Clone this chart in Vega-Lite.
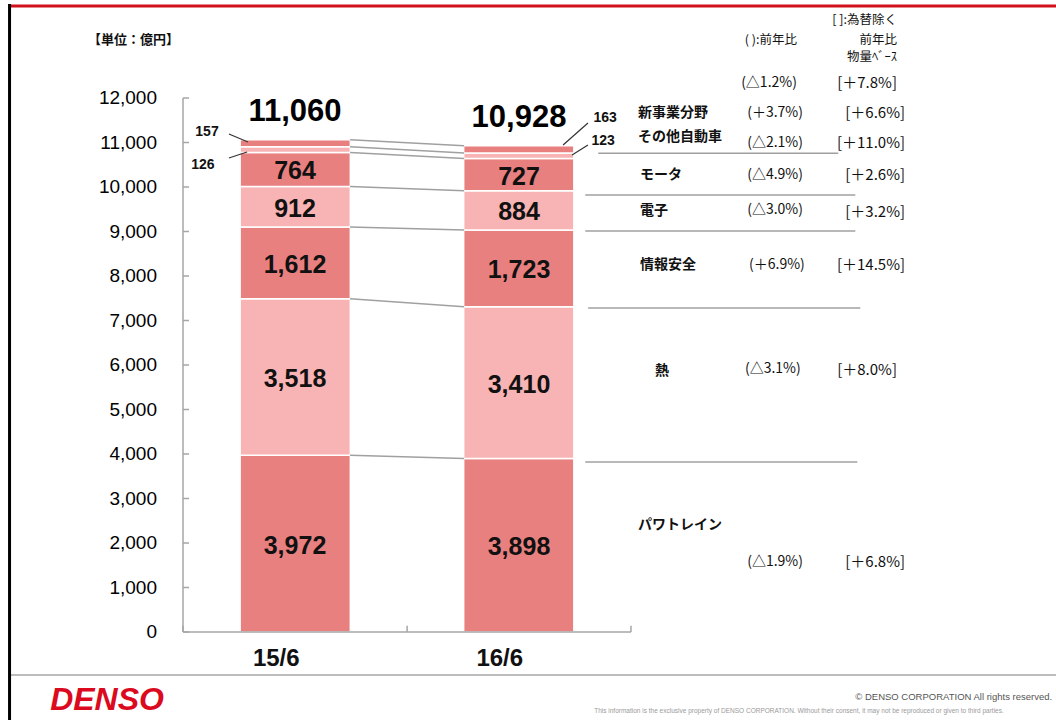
{
  "$schema": "https://vega.github.io/schema/vega-lite/v6.json",
  "autosize": {"type": "none"},
  "padding": {"left": 183, "top": 9, "right": 0, "bottom": 88},
  "width": 874,
  "height": 623,
  "background": "white",
  "config": {"view": {"stroke": null}, "text": {"font": "Noto Sans CJK JP"}},
  "datasets": {
    "bars": [
      {"period": "15/6", "segment": "パワトレイン", "order": 1, "value": 3972},
      {"period": "15/6", "segment": "熱", "order": 2, "value": 3518},
      {"period": "15/6", "segment": "情報安全", "order": 3, "value": 1612},
      {"period": "15/6", "segment": "電子", "order": 4, "value": 912},
      {"period": "15/6", "segment": "モータ", "order": 5, "value": 764},
      {"period": "15/6", "segment": "その他自動車", "order": 6, "value": 126},
      {"period": "15/6", "segment": "新事業分野", "order": 7, "value": 157},
      {"period": "16/6", "segment": "パワトレイン", "order": 1, "value": 3898},
      {"period": "16/6", "segment": "熱", "order": 2, "value": 3410},
      {"period": "16/6", "segment": "情報安全", "order": 3, "value": 1723},
      {"period": "16/6", "segment": "電子", "order": 4, "value": 884},
      {"period": "16/6", "segment": "モータ", "order": 5, "value": 727},
      {"period": "16/6", "segment": "その他自動車", "order": 6, "value": 123},
      {"period": "16/6", "segment": "新事業分野", "order": 7, "value": 163}
    ],
    "totals": [
      {"period": "15/6", "total": 11060},
      {"period": "16/6", "total": 10928}
    ],
    "yticks": [
      {"v": 0}, {"v": 1000}, {"v": 2000}, {"v": 3000}, {"v": 4000}, {"v": 5000}, {"v": 6000},
      {"v": 7000}, {"v": 8000}, {"v": 9000}, {"v": 10000}, {"v": 11000}, {"v": 12000}
    ],
    "xticks": [
      {"x": 0}, {"x": 1.0}, {"x": 1.999}
    ],
    "names": [
      {"text": "新事業分野", "x": 2.030, "y": 11663},
      {"text": "その他自動車", "x": 2.030, "y": 11124},
      {"text": "モータ", "x": 2.039, "y": 10270},
      {"text": "電子", "x": 2.039, "y": 9461},
      {"text": "情報安全", "x": 2.039, "y": 8247},
      {"text": "熱", "x": 2.106, "y": 5865},
      {"text": "パワトレイン", "x": 2.030, "y": 2404}
    ],
    "yoy": [
      {"text": "(△1.2%)", "x": 2.615, "y": 12337},
      {"text": "(＋3.7%)", "x": 2.642, "y": 11663},
      {"text": "(△2.1%)", "x": 2.642, "y": 10989},
      {"text": "(△4.9%)", "x": 2.642, "y": 10270},
      {"text": "(△3.0%)", "x": 2.642, "y": 9483},
      {"text": "(＋6.9%)", "x": 2.650, "y": 8247},
      {"text": "(△3.1%)", "x": 2.632, "y": 5910},
      {"text": "(△1.9%)", "x": 2.642, "y": 1573}
    ],
    "fx": [
      {"text": "[＋7.8%]", "x": 3.186, "y": 12337},
      {"text": "[＋6.6%]", "x": 3.222, "y": 11663},
      {"text": "[＋11.0%]", "x": 3.222, "y": 10989},
      {"text": "[＋2.6%]", "x": 3.222, "y": 10270},
      {"text": "[＋3.2%]", "x": 3.222, "y": 9438},
      {"text": "[＋14.5%]", "x": 3.222, "y": 8247},
      {"text": "[＋8.0%]", "x": 3.186, "y": 5888},
      {"text": "[＋6.8%]", "x": 3.222, "y": 1573}
    ],
    "headers": [
      {"text": "( ):前年比", "x": 2.740, "y": 13303},
      {"text": "[ ]:為替除く", "x": 3.186, "y": 13753},
      {"text": "前年比", "x": 3.186, "y": 13303},
      {"text": "物量ﾍﾞｰｽ", "x": 3.186, "y": 12921}
    ],
    "unit": [
      {"text": "【単位：億円】", "x": -0.424, "y": 13303}
    ],
    "small": [
      {"text": "157", "x": 0.107, "y": 11236},
      {"text": "126", "x": 0.089, "y": 10494},
      {"text": "163", "x": 1.884, "y": 11551},
      {"text": "123", "x": 1.875, "y": 11034}
    ],
    "leaders": [
      {"x": 0.205, "x2": 0.290, "y": 11191, "y2": 11011},
      {"x": 0.205, "x2": 0.286, "y": 10652, "y2": 10787},
      {"x": 1.696, "x2": 1.807, "y": 10944, "y2": 11438},
      {"x": 1.736, "x2": 1.807, "y": 10719, "y2": 10944}
    ],
    "separators": [
      {"x": 1.853, "x2": 2.924, "y": 10760},
      {"x": 1.795, "x2": 3.0, "y": 9820},
      {"x": 1.795, "x2": 3.0, "y": 9010},
      {"x": 1.808, "x2": 3.022, "y": 7280},
      {"x": 1.795, "x2": 3.009, "y": 3820}
    ],
    "frame": [
      {"part": "yaxis", "x": 0, "x2": 0, "y": 0, "y2": 12000},
      {"part": "xaxis", "x": 0, "x2": 1.999, "y": 0, "y2": 0},
      {"part": "bottom", "x": -0.774, "x2": 3.9, "y": -966, "y2": -966}
    ],
    "redline": [
      {"x": -0.768, "x2": 3.9, "y": 14067, "y2": 14067}
    ],
    "border": [
      {"x": -0.774, "x2": -0.774, "y": 14110, "y2": -1990}
    ],
    "logo": [
      {"text": "DENSO", "x": -0.339, "y": -1528}
    ],
    "copyright1": [
      {"text": "© DENSO CORPORATION  All rights reserved.", "x": 3.0, "y": -1461}
    ],
    "copyright2": [
      {"text": "This information is the exclusive property of DENSO CORPORATION.   Without their consent, it may not be reproduced or given to third parties.", "x": 1.835, "y": -1775}
    ]
  },
  "resolve": {"scale": {"x": "independent"}},
  "layer": [
    {
      "data": {"name": "bars"},
      "mark": {"type": "bar", "stroke": "white", "strokeWidth": 1.5},
      "encoding": {
        "x": {"field": "period", "type": "nominal",
          "scale": {"range": [0, 448], "paddingInner": 0.507, "paddingOuter": 0.2556},
          "axis": {"title": null, "labelAngle": 0, "labelFontSize": 24, "labelFontWeight": "bold", "labelColor": "#111", "labelFont": "Liberation Sans",
            "domain": false, "ticks": false, "labelOffset": -19, "labelPadding": 14, "grid": false}},
        "y": {"field": "value", "type": "quantitative", "stack": "zero",
          "scale": {"domain": [0, 14000], "nice": false}, "axis": null},
        "color": {"field": "segment", "type": "nominal",
          "scale": {"domain": ["パワトレイン", "熱", "情報安全", "電子", "モータ", "その他自動車", "新事業分野"],
            "range": ["#E98080", "#F8B4B4", "#E98080", "#F8B4B4", "#E98080", "#F8B4B4", "#E98080"]},
          "legend": null},
        "order": {"field": "order", "type": "quantitative"}
      }
    },
    {
      "data": {"name": "bars"},
      "transform": [{"filter": "datum.order <= 5"}],
      "mark": {"type": "text", "fontSize": 25, "font": "Liberation Sans", "fontWeight": "bold", "color": "#111", "baseline": "middle", "dy": 2},
      "encoding": {
        "x": {"field": "period", "type": "nominal",
          "scale": {"range": [0, 448], "paddingInner": 0.507, "paddingOuter": 0.2556}, "axis": null},
        "y": {"field": "value", "type": "quantitative", "stack": "zero", "bandPosition": 0.5,
          "scale": {"domain": [0, 14000], "nice": false}, "axis": null},
        "detail": {"field": "segment"},
        "order": {"field": "order", "type": "quantitative"},
        "text": {"field": "value", "type": "quantitative", "format": ","}
      }
    },
    {
      "data": {"name": "totals"},
      "mark": {"type": "text", "fontSize": 31, "font": "Liberation Sans", "fontWeight": "bold", "color": "#000", "baseline": "middle", "dy": -28},
      "encoding": {
        "x": {"field": "period", "type": "nominal",
          "scale": {"range": [0, 448], "paddingInner": 0.507, "paddingOuter": 0.2556}, "axis": null},
        "y": {"field": "total", "type": "quantitative", "scale": {"domain": [0, 14000], "nice": false}, "axis": null},
        "text": {"field": "total", "type": "quantitative", "format": ","}
      }
    },
    {
      "data": {"name": "yticks"},
      "mark": {"type": "text", "fontSize": 19, "font": "Liberation Sans", "color": "#000", "align": "right", "baseline": "middle"},
      "encoding": {
        "x": {"datum": -0.116, "type": "quantitative", "scale": {"domain": [0, 3.9], "nice": false, "zero": false}, "axis": null},
        "y": {"field": "v", "type": "quantitative", "scale": {"domain": [0, 14000], "nice": false}, "axis": null},
        "text": {"field": "v", "type": "quantitative", "format": ","}
      }
    },
    {
      "data": {"name": "yticks"},
      "mark": {"type": "rule", "color": "#A6A6A6", "strokeWidth": 1.5},
      "encoding": {
        "x": {"datum": 0, "type": "quantitative", "scale": {"domain": [0, 3.9], "nice": false, "zero": false}, "axis": null},
        "x2": {"datum": 0.027},
        "y": {"field": "v", "type": "quantitative", "scale": {"domain": [0, 14000], "nice": false}, "axis": null}
      }
    },
    {
      "data": {"name": "xticks"},
      "mark": {"type": "rule", "color": "#A6A6A6", "strokeWidth": 1.5},
      "encoding": {
        "x": {"field": "x", "type": "quantitative", "scale": {"domain": [0, 3.9], "nice": false, "zero": false}, "axis": null},
        "y": {"datum": 0, "type": "quantitative", "scale": {"domain": [0, 14000], "nice": false}, "axis": null},
        "y2": {"datum": 140}
      }
    },
    {
      "data": {"name": "bars"},
      "transform": [
        {"stack": "value", "groupby": ["period"], "sort": [{"field": "order"}], "as": ["y0", "y1"]},
        {"pivot": "period", "value": "y1", "groupby": ["segment"]}
      ],
      "mark": {"type": "rule", "color": "#A0A0A0", "strokeWidth": 1.5},
      "encoding": {
        "x": {"datum": 0.7455, "type": "quantitative", "scale": {"domain": [0, 3.9], "nice": false, "zero": false}, "axis": null},
        "x2": {"datum": 1.2545},
        "y": {"field": "15/6", "type": "quantitative", "scale": {"domain": [0, 14000], "nice": false}, "axis": null},
        "y2": {"field": "16/6"}
      }
    },
    {
      "data": {"name": "separators"},
      "mark": {"type": "rule", "color": "#A0A0A0", "strokeWidth": 1.5},
      "encoding": {
        "x": {"field": "x", "type": "quantitative", "scale": {"domain": [0, 3.9], "nice": false, "zero": false}, "axis": null},
        "x2": {"field": "x2"},
        "y": {"field": "y", "type": "quantitative", "scale": {"domain": [0, 14000], "nice": false}, "axis": null}
      }
    },
    {
      "data": {"name": "leaders"},
      "mark": {"type": "rule", "color": "#333", "strokeWidth": 1.2},
      "encoding": {
        "x": {"field": "x", "type": "quantitative", "scale": {"domain": [0, 3.9], "nice": false, "zero": false}, "axis": null},
        "x2": {"field": "x2"},
        "y": {"field": "y", "type": "quantitative", "scale": {"domain": [0, 14000], "nice": false}, "axis": null},
        "y2": {"field": "y2"}
      }
    },
    {
      "data": {"name": "frame"},
      "mark": {"type": "rule", "color": "#A6A6A6", "strokeWidth": 1.5},
      "encoding": {
        "x": {"field": "x", "type": "quantitative", "scale": {"domain": [0, 3.9], "nice": false, "zero": false}, "axis": null},
        "x2": {"field": "x2"},
        "y": {"field": "y", "type": "quantitative", "scale": {"domain": [0, 14000], "nice": false}, "axis": null},
        "y2": {"field": "y2"}
      }
    },
    {
      "data": {"name": "redline"},
      "mark": {"type": "rule", "color": "#D0101B", "strokeWidth": 3},
      "encoding": {
        "x": {"field": "x", "type": "quantitative", "scale": {"domain": [0, 3.9], "nice": false, "zero": false}, "axis": null},
        "x2": {"field": "x2"},
        "y": {"field": "y", "type": "quantitative", "scale": {"domain": [0, 14000], "nice": false}, "axis": null},
        "y2": {"field": "y2"}
      }
    },
    {
      "data": {"name": "border"},
      "mark": {"type": "rule", "color": "#000", "strokeWidth": 3},
      "encoding": {
        "x": {"field": "x", "type": "quantitative", "scale": {"domain": [0, 3.9], "nice": false, "zero": false}, "axis": null},
        "x2": {"field": "x2"},
        "y": {"field": "y", "type": "quantitative", "scale": {"domain": [0, 14000], "nice": false}, "axis": null},
        "y2": {"field": "y2"}
      }
    },
    {
      "data": {"name": "names"},
      "mark": {"type": "text", "fontSize": 14, "fontWeight": "bold", "align": "left", "baseline": "middle", "color": "#111"},
      "encoding": {
        "x": {"field": "x", "type": "quantitative", "scale": {"domain": [0, 3.9], "nice": false, "zero": false}, "axis": null},
        "y": {"field": "y", "type": "quantitative", "scale": {"domain": [0, 14000], "nice": false}, "axis": null},
        "text": {"field": "text"}
      }
    },
    {
      "data": {"name": "yoy"},
      "mark": {"type": "text", "fontSize": 14, "align": "center", "baseline": "middle", "color": "#111"},
      "encoding": {
        "x": {"field": "x", "type": "quantitative", "scale": {"domain": [0, 3.9], "nice": false, "zero": false}, "axis": null},
        "y": {"field": "y", "type": "quantitative", "scale": {"domain": [0, 14000], "nice": false}, "axis": null},
        "text": {"field": "text"}
      }
    },
    {
      "data": {"name": "fx"},
      "mark": {"type": "text", "fontSize": 15, "align": "right", "baseline": "middle", "color": "#111"},
      "encoding": {
        "x": {"field": "x", "type": "quantitative", "scale": {"domain": [0, 3.9], "nice": false, "zero": false}, "axis": null},
        "y": {"field": "y", "type": "quantitative", "scale": {"domain": [0, 14000], "nice": false}, "axis": null},
        "text": {"field": "text"}
      }
    },
    {
      "data": {"name": "headers"},
      "mark": {"type": "text", "fontSize": 12.5, "align": "right", "baseline": "middle", "color": "#111"},
      "encoding": {
        "x": {"field": "x", "type": "quantitative", "scale": {"domain": [0, 3.9], "nice": false, "zero": false}, "axis": null},
        "y": {"field": "y", "type": "quantitative", "scale": {"domain": [0, 14000], "nice": false}, "axis": null},
        "text": {"field": "text"}
      }
    },
    {
      "data": {"name": "unit"},
      "mark": {"type": "text", "fontSize": 13, "fontWeight": "bold", "align": "left", "baseline": "middle", "color": "#111"},
      "encoding": {
        "x": {"field": "x", "type": "quantitative", "scale": {"domain": [0, 3.9], "nice": false, "zero": false}, "axis": null},
        "y": {"field": "y", "type": "quantitative", "scale": {"domain": [0, 14000], "nice": false}, "axis": null},
        "text": {"field": "text"}
      }
    },
    {
      "data": {"name": "small"},
      "mark": {"type": "text", "fontSize": 14, "font": "Liberation Sans", "fontWeight": "bold", "align": "center", "baseline": "middle", "color": "#111"},
      "encoding": {
        "x": {"field": "x", "type": "quantitative", "scale": {"domain": [0, 3.9], "nice": false, "zero": false}, "axis": null},
        "y": {"field": "y", "type": "quantitative", "scale": {"domain": [0, 14000], "nice": false}, "axis": null},
        "text": {"field": "text"}
      }
    },
    {
      "data": {"name": "logo"},
      "mark": {"type": "text", "fontSize": 32, "font": "Liberation Sans", "fontWeight": "bold", "fontStyle": "italic", "align": "center", "baseline": "middle", "color": "#DC0A1E"},
      "encoding": {
        "x": {"field": "x", "type": "quantitative", "scale": {"domain": [0, 3.9], "nice": false, "zero": false}, "axis": null},
        "y": {"field": "y", "type": "quantitative", "scale": {"domain": [0, 14000], "nice": false}, "axis": null},
        "text": {"field": "text"}
      }
    },
    {
      "data": {"name": "copyright1"},
      "mark": {"type": "text", "font": "Liberation Sans", "fontSize": 9.5, "color": "#555555", "align": "left", "baseline": "middle"},
      "encoding": {
        "x": {"field": "x", "type": "quantitative", "scale": {"domain": [0, 3.9], "nice": false, "zero": false}, "axis": null},
        "y": {"field": "y", "type": "quantitative", "scale": {"domain": [0, 14000], "nice": false}, "axis": null},
        "text": {"field": "text"}
      }
    },
    {
      "data": {"name": "copyright2"},
      "mark": {"type": "text", "font": "Liberation Sans", "fontSize": 6.5, "color": "#9A9A9A", "align": "left", "baseline": "middle"},
      "encoding": {
        "x": {"field": "x", "type": "quantitative", "scale": {"domain": [0, 3.9], "nice": false, "zero": false}, "axis": null},
        "y": {"field": "y", "type": "quantitative", "scale": {"domain": [0, 14000], "nice": false}, "axis": null},
        "text": {"field": "text"}
      }
    }
  ]
}
